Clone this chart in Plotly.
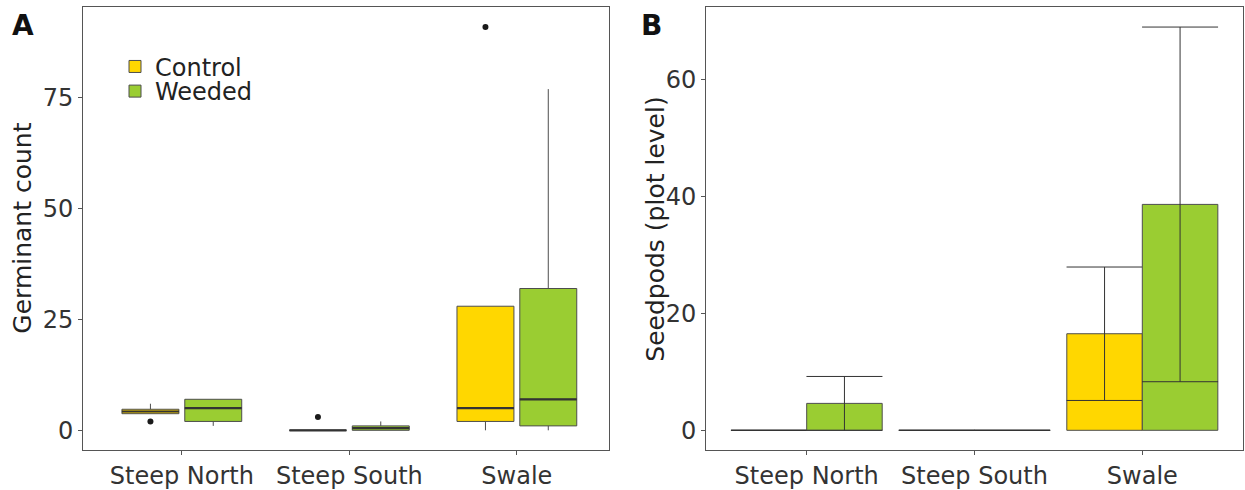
import plotly.graph_objects as go

sites = ["Steep North", "Steep South", "Swale"]
groups = ["Control", "Weeded"]

# Panel A: germinant count (box statistics per site)
ctrl_q1 = [3.75, 0, 2]
ctrl_median = [4.25, 0, 5]
ctrl_q3 = [4.75, 0, 28]
ctrl_lower = [3.75, 0, 0]
ctrl_upper = [6, 0, 28]
ctrl_out_site = [0, 1, 2]
ctrl_out_val = [2, 3, 91]

weed_q1 = [2, 0, 1]
weed_median = [5, 0.5, 7]
weed_q3 = [7, 1, 32]
weed_lower = [1, 0, 0]
weed_upper = [7, 2, 77]
weed_out_site = []
weed_out_val = []

# Panel B: seedpods (plot level), mean and error
pods_ctrl_mean = [0, 0, 16.5]
pods_ctrl_err = [0, 0, 11.4]
pods_weed_mean = [4.6, 0, 38.6]
pods_weed_err = [4.6, 0, 30.3]

A_YTICKS = [0, 25, 50, 75]
B_YTICKS = [0, 20, 40, 60]

GOLD = "#FFD700"
GREEN = "#9ACD32"
EDGE = "#4d4d4d"
FONT = "DejaVu Sans"
W, H = 1245, 490

BOX_OFF = 0.1875
BOX_W = 0.34
BAR_OFF = 0.225
BAR_W = 0.45

fig = go.Figure()

def box_trace(name, color, q1, med, q3, lo, hi, off, legend):
    xs = [i + off for i in range(len(sites))]
    fig.add_trace(go.Box(
        name=name, x=xs, q1=q1, median=med, q3=q3,
        lowerfence=lo, upperfence=hi, width=BOX_W,
        fillcolor=color, line=dict(color=EDGE, width=1),
        whiskerwidth=0, boxpoints=False, xaxis="x", yaxis="y",
        hoverinfo="skip", showlegend=True, legend=legend))
    mx, my = [], []
    for x, m in zip(xs, med):
        mx += [x - BOX_W / 2, x + BOX_W / 2, None]
        my += [m, m, None]
    fig.add_trace(go.Scatter(x=mx, y=my, mode="lines",
                             line=dict(color="#333333", width=2.2),
                             xaxis="x", yaxis="y", showlegend=False,
                             hoverinfo="skip"))

box_trace(groups[0], GOLD, ctrl_q1, ctrl_median, ctrl_q3, ctrl_lower, ctrl_upper, -BOX_OFF, "legend")
box_trace(groups[1], GREEN, weed_q1, weed_median, weed_q3, weed_lower, weed_upper, BOX_OFF, "legend2")

fig.add_trace(go.Scatter(
    x=[s - BOX_OFF for s in ctrl_out_site] + [s + BOX_OFF for s in weed_out_site],
    y=ctrl_out_val + weed_out_val, mode="markers",
    marker=dict(color="#1a1a1a", size=6), xaxis="x", yaxis="y",
    showlegend=False, hoverinfo="skip"))

# Panel B bars with error bars
CAP = 38
for mean, err, color, off in [(pods_ctrl_mean, pods_ctrl_err, GOLD, -BAR_OFF),
                              (pods_weed_mean, pods_weed_err, GREEN, BAR_OFF)]:
    fig.add_trace(go.Bar(
        x=[i + off for i in range(len(sites))], y=mean, width=BAR_W,
        marker=dict(color=color, line=dict(color=EDGE, width=1)),
        error_y=dict(type="data", array=err, visible=True, color="#333333",
                     thickness=1, width=CAP),
        xaxis="x2", yaxis="y2", showlegend=False, hoverinfo="skip"))

ydom = [1 - 457 / H, 1 - 7 / H]
axis_common = dict(showline=True, linecolor="#555555", linewidth=1, mirror=True,
                   ticks="outside", ticklen=4, tickcolor="#555555",
                   showgrid=False, zeroline=False,
                   tickfont=dict(family=FONT, size=24, color="#333333"))

legend_common = dict(xanchor="left", yanchor="top", bgcolor="rgba(0,0,0,0)",
                     font=dict(family=FONT, size=24, color="#222222"))

fig.update_layout(
    width=W, height=H, margin=dict(l=0, r=0, t=0, b=0),
    paper_bgcolor="white", plot_bgcolor="white",
    barmode="overlay", boxmode="overlay",
    font=dict(family=FONT, size=24, color="#222222"),
    xaxis=dict(domain=[83 / W, 609 / W], range=[-0.59, 2.55],
               tickvals=[0, 1, 2], ticktext=sites, **axis_common),
    yaxis=dict(domain=ydom, range=[-4.55, 95.55], tickvals=A_YTICKS, **axis_common),
    xaxis2=dict(domain=[706 / W, 1243 / W], range=[-0.6, 2.6],
                tickvals=[0, 1, 2], ticktext=sites, anchor="y2", **axis_common),
    yaxis2=dict(domain=ydom, range=[-3.445, 72.345], tickvals=B_YTICKS,
                anchor="x2", **axis_common),
    legend=dict(x=115 / W, y=1 - 45 / H, **legend_common),
    legend2=dict(x=115 / W, y=1 - 70 / H, **legend_common),
    showlegend=True,
)

ann = [
    dict(text="<b>A</b>", x=23 / W, y=1 - 26 / H, font=dict(size=28, color="#111111")),
    dict(text="<b>B</b>", x=651 / W, y=1 - 26 / H, font=dict(size=28, color="#111111")),
    dict(text="Germinant count", x=23 / W, y=1 - 232 / H, textangle=-90,
         font=dict(size=25, color="#222222")),
    dict(text="Seedpods (plot level)", x=656 / W, y=1 - 233 / H, textangle=-90,
         font=dict(size=25, color="#222222")),
]
for a in ann:
    a.update(xref="paper", yref="paper", showarrow=False, xanchor="center", yanchor="middle")
    a["font"]["family"] = FONT
fig.update_layout(annotations=ann)

fig.write_html("out.html", config={"displayModeBar": False},
               post_script="document.body.style.margin='0';")
